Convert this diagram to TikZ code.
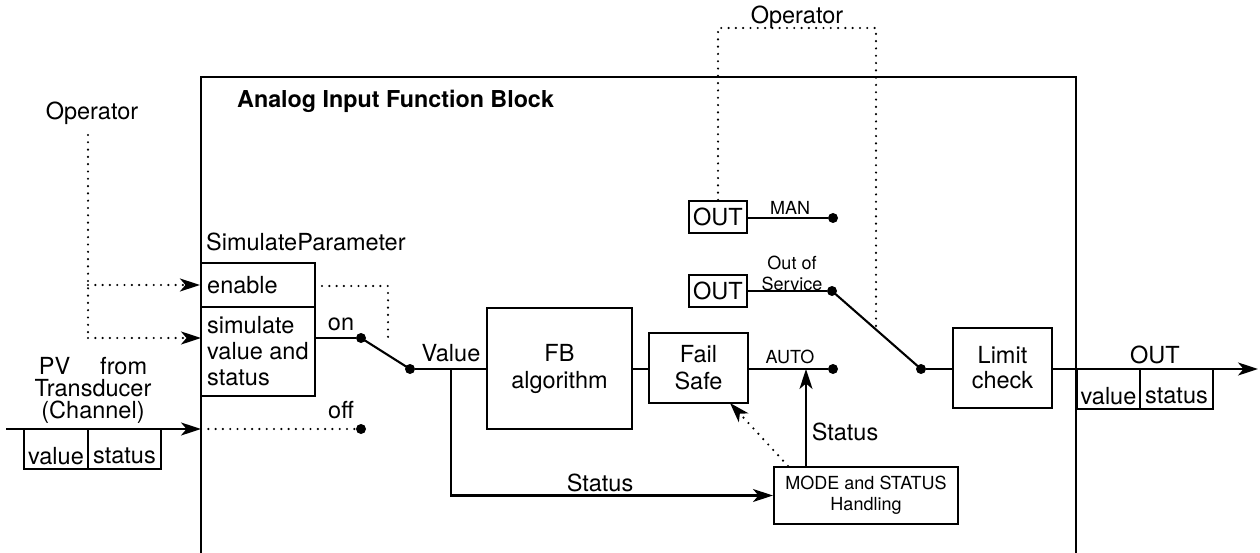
\documentclass[tikz,border=0pt]{standalone}
\usepackage{fontspec}
\setmainfont{TeX Gyre Heros}
\usetikzlibrary{arrows.meta}
\begin{document}
\begin{tikzpicture}[x=1pt,y=-1pt,
  every node/.style={font=\fontsize{23.5}{26}\selectfont, inner sep=0pt},
  box/.style={draw, line width=2.1pt, rectangle},
  wire/.style={line width=2.1pt},
  dotline/.style={line width=2.4pt, line cap=round, dash pattern=on 0pt off 7.3pt},
  arr/.style={-{Stealth[length=20pt,width=13pt,inset=5.5pt]}},
  dot/.style={circle, fill, minimum size=10pt, inner sep=0pt},
  small/.style={font=\fontsize{18}{21}\selectfont},
  two/.style={font=\fontsize{23.5}{27}\selectfont, align=center},
]
\fill[white] (0,0) rectangle (1260,553);
\useasboundingbox (0,0) rectangle (1260,553);

% outer block
\draw[wire] (201,560) -- (201,77) -- (1076,77) -- (1076,560);
\node[font=\bfseries\fontsize{23.3}{26}\selectfont, anchor=west] (title) at (237,101) {Analog Input Function Block};

% left operator
\node (opl) at (92,113) {Operator};
\coordinate (opltop) at (88,135);
\coordinate (oplbot) at (88,338);

% simulate parameter
\node[anchor=west] (simlabel) at (206,242) {SimulateParameter};
\node[box, minimum width=114pt, minimum height=44pt] (enable) at (258,285) {};
\node[anchor=west] (enabletxt) at (207,285) {enable};
\node[box, minimum width=114pt, minimum height=89pt] (sim) at (258,351.5) {};
\node[anchor=west, align=left] (simtxt) at (207,351) {simulate\\value and\\status};
\coordinate (simin) at (201,338);

\draw[dotline] (opltop) -- (oplbot);
\draw[dotline,arr] (opltop |- enable.west) -- (enable.west);
\draw[dotline,arr] (oplbot) -- (simin);

\coordinate (en1) at (322,286);
\coordinate (en2) at (388,338);
\draw[dotline] (en1) -| (en2);

\node[dot] (d1) at (361,338) {};
\draw[wire] (sim.east |- d1) -- (d1);
\node (on) at (341,324) {on};
\node[dot] (d2) at (410,369) {};
\draw[wire] (d1.center) -- (d2.center);
\node (off) at (341,410) {off};
\node[dot] (d3) at (361,429) {};

% PV input
\coordinate (pvin) at (201,429);
\coordinate (pvstart) at (6,429);
\draw[wire,arr] (pvstart) -- (pvin);
\draw[dotline] (pvin) -- (d3);
\node[box, minimum width=64pt, minimum height=40pt] (pvv) at (56,449) {};
\node[box, minimum width=73pt, minimum height=40pt] (pvs) at (124.5,449) {};
\node (pvvt) at (56,456) {value};
\node (pvst) at (124.5,456) {status};
\node[align=center, font=\fontsize{23.5}{22}\selectfont] (pv) at (93,390) {PV\hspace{30pt}from\\Transducer\\(Channel)};

% middle
\node[box, two, minimum width=145pt, minimum height=121pt] (fb) at (559.5,368.5) {FB\\algorithm};
\draw[wire] (d2) -- (d2 -| fb.west);
\node (value) at (451,353) {Value};
\coordinate (vs) at (451,369);
\node[box, small, align=center, minimum width=184pt, minimum height=57pt] (mode) at (866,495.5) {MODE and STATUS\\Handling};
\draw[wire,arr] (vs) |- (mode.west);
\node (st1) at (600,483) {Status};
\node[box, two, minimum width=99pt, minimum height=70pt] (fs) at (698.5,368) {Fail\\Safe};
\draw[wire] (fb.east |- d2) -- (fs.west |- d2);
\node[dot] (d4) at (833,369) {};
\draw[wire] (fs.east |- d4) -- (d4);
\node[small] (auto) at (790,357) {AUTO};
\coordinate (autoin) at (806,369);
\draw[wire,arr] (autoin |- mode.north) -- (autoin);
\node (st2) at (845,432) {Status};
\coordinate (mdot) at (788,466);
\coordinate (fsin) at (730,403);
\draw[dotline,arr] (mdot) -- (fsin);

% right part
\node (opt) at (797,17) {Operator};
\node[box, minimum width=58pt, minimum height=32pt] (out1) at (718,217) {OUT};
\node[box, minimum width=58pt, minimum height=32pt] (out2) at (718,291) {OUT};
\coordinate (optl) at (718,28);
\coordinate (optr) at (876,28);
\coordinate (opend) at (876,326);
\draw[dotline] (out1.north) -- (optl) -- (optr) -- (opend);
\node[dot] (d5) at (833,218) {};
\draw[wire] (out1.east |- d5) -- (d5);
\node[small] (man) at (790,208) {MAN};
\node[dot] (d6) at (832,291) {};
\draw[wire] (out2.east |- d6) -- (d6);
\node[small, align=center] (oos) at (792,273) {Out of\\Service};
\node[dot] (d7) at (921,369) {};
\draw[wire] (d6.center) -- (d7.center);
\node[box, two, font=\fontsize{23.5}{25}\selectfont, minimum width=99pt, minimum height=80pt] (lc) at (1002.5,368) {Limit\\check};
\draw[wire] (d7) -- (d7 -| lc.west);
\coordinate (outend) at (1258,369);
\draw[wire,arr] (lc.east |- d7) -- (outend);
\node (outl) at (1155,355) {OUT};
\node[box, minimum width=63pt, minimum height=40pt] (ov) at (1108.5,389) {};
\node[box, minimum width=73pt, minimum height=40pt] (os) at (1176.5,389) {};
\node (ovt) at (1108.5,396) {value};
\node (ost) at (1176.5,396) {status};
\end{tikzpicture}
\end{document}
